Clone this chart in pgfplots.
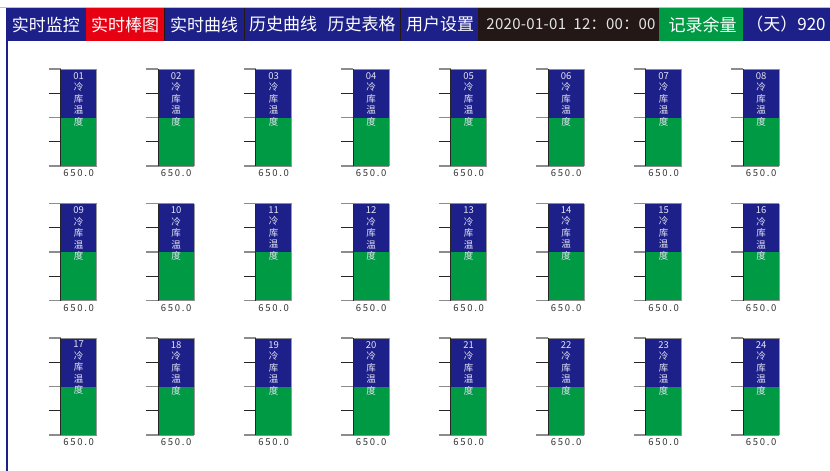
\documentclass[border=0pt]{standalone}
\usepackage{pgfplots}
\pgfplotsset{compat=1.18}
\usepackage{fontspec}
\setmainfont{Noto Sans CJK SC}
\definecolor{hmiblue}{HTML}{1D2088}
\definecolor{hmired}{HTML}{E60012}
\definecolor{hmigreen}{HTML}{009944}
\definecolor{hmidark}{HTML}{231815}
\definecolor{hmitext}{HTML}{E4E4F2}
\begin{document}
\begin{tikzpicture}[x=1pt,y=1pt]
\fill[white] (0,0) rectangle (830,-471);
\useasboundingbox (0,0) rectangle (830,-471);
% header
\draw[black!25, line width=1pt] (0,-7.5) -- (830,-7.5);
\fill[hmiblue] (6,-8) rectangle (830,-41);
\fill[hmired] (86,-8) rectangle (164,-41);
\fill[hmidark] (478,-8) rectangle (659,-41);
\fill[hmigreen] (659,-8) rectangle (743,-41);
\foreach \xx in {164,244,400} \draw[hmidark, line width=0.8pt] (\xx,-8) -- (\xx,-41);
\fill[hmiblue] (6,-41) rectangle (8,-471);
\begin{scope}[every node/.style={text=white, inner sep=0pt, font=\fontsize{17}{17}\selectfont}]
\node at (46,-24.5) {实时监控};
\node at (125,-24.5) {实时棒图};
\node at (204,-24.5) {实时曲线};
\node at (283,-24.5) {历史曲线};
\node at (361.5,-24.5) {历史表格};
\node at (440,-24.5) {用户设置};
\node[text=white!90!black, font=\fontsize{15}{15}\selectfont\addfontfeatures{LetterSpace=2}] at (571,-24.5) {2020-01-01\ \ 12：00：00};
\node at (702.5,-24.5) {记录余量};
\node at (786,-24.5) {（天）920};
\end{scope}
% gauges
\foreach \i/\v in {1/650,2/650,3/650,4/650,5/650,6/650,7/650,8/650,
                   9/650,10/650,11/650,12/650,13/650,14/650,15/650,16/650,
                   17/650,18/650,19/650,20/650,21/650,22/650,23/650,24/650}{
  \pgfmathtruncatemacro\grow{(\i-1)/8}
  \pgfmathtruncatemacro\gcol{\i-1-8*\grow}
  \pgfmathsetmacro\gx{60.7+97.5*\gcol}
  \pgfmathsetmacro\gy{69+134.5*\grow}
  \begin{axis}[at={(\gx pt,-\gy pt)}, anchor=north west,
    width=36pt, height=97pt, scale only axis,
    xmin=0, xmax=1, ymin=0, ymax=1300,
    axis background/.style={fill=hmiblue},
    xtick=\empty,
    ytick={325,975}, yticklabels={},
    extra y ticks={0,650,1300}, extra y tick labels={},
    extra y tick style={ytick style={line width=1.2pt, black!45}},
    tick align=outside, major tick length=12pt, ytick pos=left,
    ytick style={line width=1.2pt, black!85},
    axis line style={draw=none}, clip=false]
    \addplot[fill=hmigreen, draw=none] coordinates {(0,\v) (1,\v)} \closedcycle;
    \draw[black!45, line width=1pt] (rel axis cs:0,1) -- (rel axis cs:1,1);
    \draw[black!45, line width=1pt] (rel axis cs:0,0) -- (rel axis cs:1,0);
    \draw[black!85, line width=1.3pt] (rel axis cs:0,0) -- (rel axis cs:0,1);
    \draw[black!40, line width=0.6pt] (rel axis cs:1,0) -- (rel axis cs:1,1);
    \node[anchor=north, inner sep=0pt, align=center, text=hmitext,
          font=\fontsize{9.5}{11.5}\selectfont, yshift=-3pt]
      at (rel axis cs:0.5,1) {\ifnum\i<10 0\fi\i\\冷\\库\\温\\度};
    \node[anchor=base, inner sep=0pt, text=black!80,
          font=\fontsize{9.5}{9.5}\selectfont\addfontfeatures{LetterSpace=18}, yshift=-10.5pt]
      at (rel axis cs:0.5,0) {\v.0};
  \end{axis}
}
\end{tikzpicture}
\end{document}
